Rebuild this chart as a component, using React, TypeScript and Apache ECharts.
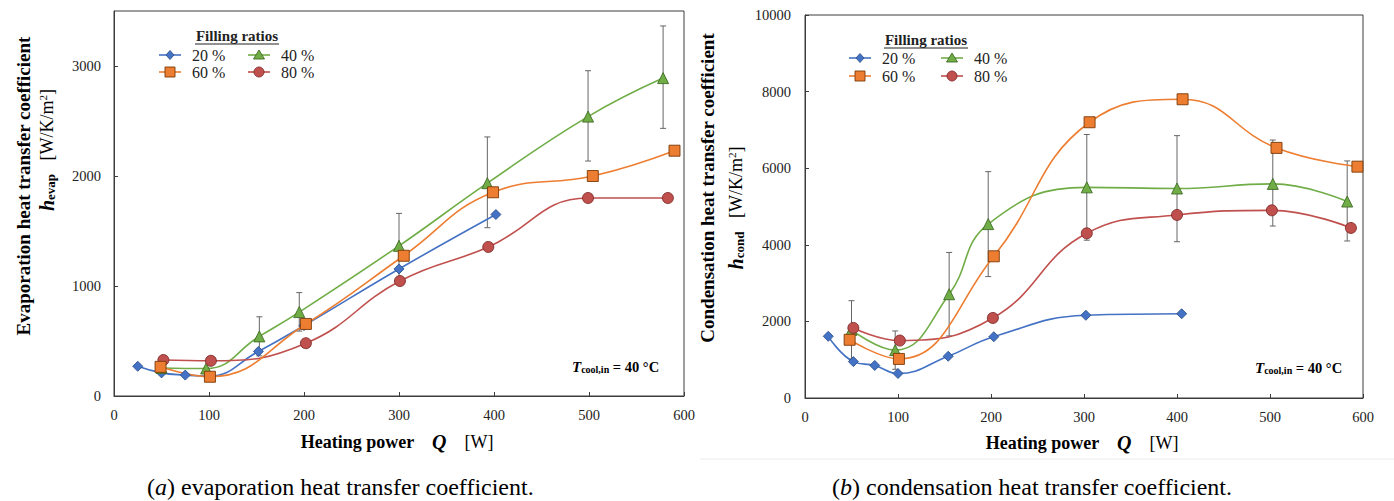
import React, { useEffect, useRef } from "react";
import * as echarts from "echarts";

// ---------- Data (a) evaporation ----------
const Q20L = [25, 50, 75, 100, 152, 200, 300, 402];
const H20L = [270, 210, 190, 180, 405, 640, 1155, 1650];
const Q40L = [50, 97, 153, 195, 300, 393, 499, 578];
const H40L = [255, 250, 542, 763, 1365, 1935, 2540, 2890];
const Q60L = [49, 101, 202, 305, 399, 504, 590];
const H60L = [265, 175, 655, 1275, 1852, 2000, 2230];
const Q80L = [52, 102, 202, 301, 394, 499, 583];
const H80L = [327, 320, 480, 1045, 1355, 1800, 1800];
const ERR_Q_L = [153, 195, 300, 393, 499, 578];
const ERR_LO_L = [365, 590, 1070, 1530, 2136, 2433];
const ERR_HI_L = [720, 940, 1660, 2355, 2957, 3364];

// ---------- Data (b) condensation ----------
const Q20R = [25, 52, 75, 100, 154, 203, 302, 405];
const H20R = [1610, 950, 850, 640, 1090, 1600, 2160, 2200];
const Q40R = [50, 97, 155, 197, 303, 400, 503, 583];
const H40R = [1780, 1250, 2710, 4540, 5500, 5470, 5590, 5130];
const Q60R = [48, 101, 203, 306, 406, 507, 594];
const H60R = [1520, 1020, 3700, 7200, 7800, 6530, 6040];
const Q80R = [52, 102, 202, 303, 400, 502, 587];
const H80R = [1830, 1500, 2090, 4300, 4780, 4900, 4440];
const ERR_Q_R = [50, 97, 155, 197, 303, 400, 503, 583];
const ERR_LO_R = [1020, 750, 1620, 3170, 4120, 4080, 4490, 4100];
const ERR_HI_R = [2540, 1750, 3800, 5910, 6880, 6850, 6736, 6190];

const X_TICKS = [0, 100, 200, 300, 400, 500, 600];
const LEGEND_LABELS = ["20 %", "40 %", "60 %", "80 %"];

const FONT = "'Liberation Serif', 'Times New Roman', serif";
const BLUE = "#4472C4";
const GREEN = "#70AD47";
const ORANGE = "#ED7D31";
const RED = "#C0504D";
const FRAME = "#3c3c3c";

const zip = (xs: number[], ys: number[]) => xs.map((x, i) => [x, ys[i]]);

function lineSeries(name: string, xs: number[], ys: number[], color: string, symbol: string, size: number, border: string, idx: number) {
  return {
    type: "line",
    name,
    xAxisIndex: idx,
    yAxisIndex: idx,
    data: zip(xs, ys),
    smooth: 0.45,
    symbol,
    symbolSize: size,
    showSymbol: true,
    lineStyle: { color, width: 1.6 },
    itemStyle: { color, borderColor: border, borderWidth: 0.9 },
    z: 3,
  };
}

function errSeries(qs: number[], lo: number[], hi: number[], idx: number) {
  return {
    type: "custom",
    xAxisIndex: idx,
    yAxisIndex: idx,
    z: 2,
    data: qs.map((q, i) => [q, lo[i], hi[i]]),
    encode: { x: 0, y: [1, 2] },
    renderItem: (_p: any, api: any) => {
      const x = api.value(0);
      const a = api.coord([x, api.value(1)]);
      const b = api.coord([x, api.value(2)]);
      const w = 3;
      const st = { stroke: "#666666", lineWidth: 1 };
      return {
        type: "group",
        children: [
          { type: "line", shape: { x1: a[0], y1: a[1], x2: b[0], y2: b[1] }, style: st },
          { type: "line", shape: { x1: a[0] - w, y1: a[1], x2: a[0] + w, y2: a[1] }, style: st },
          { type: "line", shape: { x1: b[0] - w, y1: b[1], x2: b[0] + w, y2: b[1] }, style: st },
        ],
      };
    },
  };
}

const plain = (v: number) => String(v);

function xAxis(idx: number) {
  return {
    type: "value",
    gridIndex: idx,
    min: X_TICKS[0],
    max: X_TICKS[X_TICKS.length - 1],
    interval: 100,
    axisLine: { show: true, lineStyle: { color: FRAME, width: 1 } },
    axisTick: { show: true, inside: true, length: 4, lineStyle: { color: FRAME } },
    axisLabel: { fontFamily: FONT, fontSize: 14.5, color: "#222", margin: 11, formatter: plain },
    splitLine: { show: false },
  };
}

function yAxis(idx: number, max: number, interval: number, margin: number, showMax: boolean) {
  return {
    type: "value",
    gridIndex: idx,
    min: 0,
    max,
    interval,
    axisLine: { show: true, lineStyle: { color: FRAME, width: 1 } },
    axisTick: { show: true, inside: true, length: 4, lineStyle: { color: FRAME } },
    axisLabel: { fontFamily: FONT, fontSize: 14.5, color: "#222", margin, formatter: plain, showMaxLabel: showMax },
    splitLine: { show: false },
  };
}

function legendMarker(kind: string, cx: number, cy: number, color: string, border: string) {
  const st = { fill: color, stroke: border, lineWidth: 0.9 };
  if (kind === "diamond") {
    return { type: "polygon", shape: { points: [[cx, cy - 4.5], [cx + 4, cy], [cx, cy + 4.5], [cx - 4, cy]] }, style: st };
  }
  if (kind === "triangle") {
    return { type: "polygon", shape: { points: [[cx, cy - 5], [cx + 5.5, cy + 4], [cx - 5.5, cy + 4]] }, style: st };
  }
  if (kind === "rect") {
    return { type: "rect", shape: { x: cx - 5, y: cy - 5, width: 10, height: 10 }, style: st };
  }
  return { type: "circle", shape: { cx, cy, r: 5 }, style: st };
}

function legend(titleX: number, titleY: number, c1: number, c2: number, r1: number, r2: number) {
  const items = [
    { label: LEGEND_LABELS[0], kind: "diamond", color: BLUE, border: "#2F528F", x: c1, y: r1 },
    { label: LEGEND_LABELS[1], kind: "triangle", color: GREEN, border: "#3F6B25", x: c2, y: r1 },
    { label: LEGEND_LABELS[2], kind: "rect", color: ORANGE, border: "#7a3a08", x: c1, y: r2 },
    { label: LEGEND_LABELS[3], kind: "circle", color: RED, border: "#7d2a28", x: c2, y: r2 },
  ];
  const els: any[] = [
    {
      type: "text",
      x: titleX,
      y: titleY,
      style: { text: "Filling ratios", fontFamily: FONT, fontWeight: "bold", fontSize: 15, fill: "#222", align: "center", verticalAlign: "middle" },
    },
    { type: "line", shape: { x1: titleX - 42, y1: titleY + 8, x2: titleX + 42, y2: titleY + 8 }, style: { stroke: "#222", lineWidth: 1 } },
  ];
  items.forEach((it) => {
    els.push({ type: "line", shape: { x1: it.x - 11, y1: it.y, x2: it.x + 11, y2: it.y }, style: { stroke: it.color, lineWidth: 1.6 } });
    els.push(legendMarker(it.kind, it.x, it.y, it.color, it.border));
    els.push({
      type: "text",
      x: it.x + 22,
      y: it.y,
      style: { text: it.label, fontFamily: FONT, fontSize: 16, fill: "#222", align: "left", verticalAlign: "middle" },
    });
  });
  return els;
}

const rich = {
  b: { fontFamily: FONT, fontWeight: "bold", fontSize: 19, color: "#111" },
  xb: { fontFamily: FONT, fontWeight: "bold", fontSize: 18, color: "#111" },
  n: { fontFamily: FONT, fontSize: 18, color: "#111" },
  hi: { fontFamily: FONT, fontWeight: "bold", fontStyle: "italic", fontSize: 20, color: "#111" },
  sub: { fontFamily: FONT, fontWeight: "bold", fontSize: 13, color: "#111", verticalAlign: "bottom", padding: [7, 0, 0, 0] },
  sup: { fontFamily: FONT, fontSize: 11, color: "#111", verticalAlign: "top", padding: [0, 0, 7, 0] },
  ti: { fontFamily: FONT, fontWeight: "bold", fontStyle: "italic", fontSize: 15, color: "#111" },
  tsub: { fontFamily: FONT, fontWeight: "bold", fontSize: 10, color: "#111", verticalAlign: "bottom", padding: [5, 0, 0, 0] },
  tb: { fontFamily: FONT, fontWeight: "bold", fontSize: 14.5, color: "#111" },
  cap: { fontFamily: FONT, fontSize: 24, color: "#111" },
  capi: { fontFamily: FONT, fontStyle: "italic", fontSize: 24, color: "#111" },
};

function rtext(x: number, y: number, text: string, rotation = 0, align = "center") {
  return {
    type: "text",
    x,
    y,
    rotation,
    style: { text, rich, align, verticalAlign: "middle" },
  };
}

export default function App() {
  const ref = useRef<HTMLDivElement>(null);
  useEffect(() => {
    const chart = echarts.init(ref.current!, null, { renderer: "svg" });
    const option: any = {
      animation: false,
      backgroundColor: "#ffffff",
      grid: [
        { left: 114, top: 11, width: 570, height: 385, show: true, borderColor: FRAME, borderWidth: 1, backgroundColor: "transparent" },
        { left: 805, top: 15, width: 558, height: 383, show: true, borderColor: FRAME, borderWidth: 1, backgroundColor: "transparent" },
      ],
      xAxis: [xAxis(0), xAxis(1)],
      yAxis: [yAxis(0, 3500, 1000, 13, false), yAxis(1, 10000, 2000, 14, true)],
      series: [
        errSeries(ERR_Q_L, ERR_LO_L, ERR_HI_L, 0),
        lineSeries("20 %", Q20L, H20L, BLUE, "diamond", 10, "#2F528F", 0),
        lineSeries("40 %", Q40L, H40L, GREEN, "triangle", 11, "#3F6B25", 0),
        lineSeries("80 %", Q80L, H80L, RED, "circle", 11, "#7d2a28", 0),
        lineSeries("60 %", Q60L, H60L, ORANGE, "rect", 11, "#7a3a08", 0),
        errSeries(ERR_Q_R, ERR_LO_R, ERR_HI_R, 1),
        lineSeries("20 %", Q20R, H20R, BLUE, "diamond", 10, "#2F528F", 1),
        lineSeries("40 %", Q40R, H40R, GREEN, "triangle", 11, "#3F6B25", 1),
        lineSeries("80 %", Q80R, H80R, RED, "circle", 11, "#7d2a28", 1),
        lineSeries("60 %", Q60R, H60R, ORANGE, "rect", 11, "#7a3a08", 1),
      ],
      graphic: [
        // y-axis titles
        rtext(23, 186, "{b|Evaporation heat transfer coefficient}", Math.PI / 2),
        rtext(47, 150, "{hi|h}{sub|evap}{n|   [W/K/m}{sup|2}{n|]}", Math.PI / 2),
        rtext(707, 188, "{b|Condensation heat transfer coefficient}", Math.PI / 2),
        rtext(736, 208, "{hi|h}{sub|cond}{n|   [W/K/m}{sup|2}{n|]}", Math.PI / 2),
        // x-axis titles
        rtext(397, 442, "{xb|Heating power    }{hi|Q}{n|    [W]}"),
        rtext(1082, 443, "{xb|Heating power    }{hi|Q}{n|    [W]}"),
        // annotations
        rtext(572, 367, "{ti|T}{tsub|cool,in}{tb| = 40 °C}", 0, "left"),
        rtext(1255, 368, "{ti|T}{tsub|cool,in}{tb| = 40 °C}", 0, "left"),
        // captions
        rtext(147, 487, "{cap|(}{capi|a}{cap|) evaporation heat transfer coefficient.}", 0, "left"),
        rtext(832, 487, "{cap|(}{capi|b}{cap|) condensation heat transfer coefficient.}", 0, "left"),
        { type: "line", shape: { x1: 700, y1: 459, x2: 1394, y2: 459 }, style: { stroke: "#ececec", lineWidth: 1 } },
        ...legend(237, 36, 170, 259, 55, 72),
        ...legend(926, 40, 860, 952, 58, 76),
      ],
    };
    chart.setOption(option);
    return () => chart.dispose();
  }, []);
  return (
    <div
      ref={ref}
      style={{ position: "fixed", left: 0, top: 0, width: 1394, height: 501, background: "#fff" }}
    />
  );
}
